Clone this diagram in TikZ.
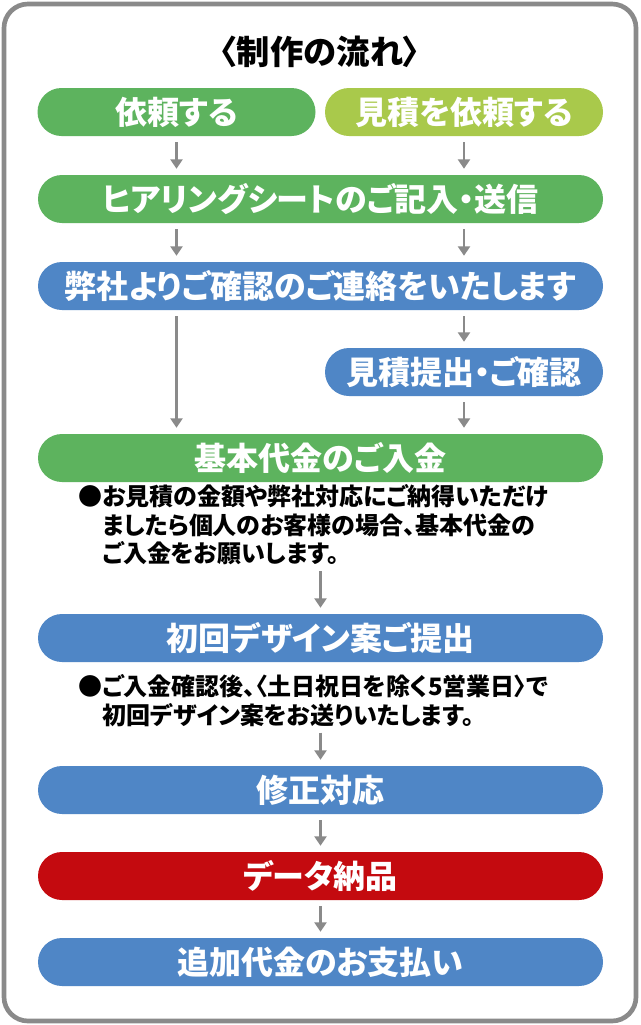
\documentclass[tikz,border=0pt]{standalone}
\usepackage{fontspec}
\setmainfont{Noto Sans CJK JP}[CharacterWidth=AlternateProportional]
\usetikzlibrary{positioning,calc,arrows.meta}
\definecolor{flowgreen}{HTML}{5DB35E}
\definecolor{flowlime}{HTML}{A9C94B}
\definecolor{flowblue}{HTML}{4F86C6}
\definecolor{flowred}{HTML}{C40A0F}
\definecolor{flowgray}{HTML}{8A8A8A}
\tikzset{
  stepbox/.style={rounded corners=24*0.75pt, minimum height=48*0.75pt, text=white,
    font=\bfseries\fontsize{24}{26}\selectfont, inner sep=0pt},
  wide/.style={stepbox, minimum width=565*0.75pt},
  half/.style={stepbox, minimum width=278*0.75pt},
  note/.style={align=left, anchor=north west, font=\bfseries\fontsize{18}{21.5}\selectfont, inner sep=0pt},
  flow/.style={draw=flowgray, line width=1.6pt, -{Triangle[length=7pt,width=9pt]}},
}
\begin{document}
\begin{tikzpicture}[x=0.75pt,y=-0.75pt]
\useasboundingbox (0,0) rectangle (640,1025);
\draw[flowgray, line width=3.5pt, rounded corners=18pt, fill=white] (4,4) rectangle (636,1021);

% ---------------------
% Title
\node[font=\bfseries\fontsize{25}{28}\selectfont] (title) at (320,52) {〈制作の流れ〉};

% ---------------------
% Steps
\node[half, fill=flowgreen] (order) at (176.5,112) {依頼する};
\node[half, fill=flowlime] (quote) at (464,112) {見積を依頼する};
\node[wide, fill=flowgreen] (sheet) at (320.5,199) {ヒアリングシートのご記入・送信};
\node[wide, fill=flowblue] (contact) at (320.5,286) {弊社よりご確認のご連絡をいたします};
\node[half, fill=flowblue] (estimate) at (464,372) {見積提出・ご確認};
\node[wide, fill=flowgreen] (payment) at (320.5,458) {基本代金のご入金};
\node[note] (paynote) at (78,484) {●お見積の金額や弊社対応にご納得いただけ\\\hspace{1em}ましたら個人のお客様の場合、基本代金の\\\hspace{1em}ご入金をお願いします。};
\node[note] (designnote) at (78,674) {●ご入金確認後、〈土日祝日を除く5営業日〉で\\\hspace{1em}初回デザイン案をお送りいたします。};
\node[wide, fill=flowblue] (design) at (320.5,638) {初回デザイン案ご提出};
\node[wide, fill=flowblue] (revise) at (320.5,790) {修正対応};
\node[wide, fill=flowred] (deliver) at (320.5,876) {データ納品};
\node[wide, fill=flowblue] (final) at (320.5,962) {追加代金のお支払い};

% ---------------------
% Arrows
\begin{scope}[shorten <=6*0.75pt, shorten >=6*0.75pt]
\draw[flow] (order.south) -- (order.south |- sheet.north);
\draw[flow] (quote.south) -- (quote.south |- sheet.north);
\draw[flow] (order.south |- sheet.south) -- (order.south |- contact.north);
\draw[flow] (quote.south |- sheet.south) -- (quote.south |- contact.north);
\draw[flow] (quote.south |- contact.south) -- (estimate.north);
\draw[flow] (order.south |- contact.south) -- (order.south |- payment.north);
\draw[flow] (estimate.south) -- (estimate.south |- payment.north);
\draw[flow] (paynote.south -| design.north) -- (design.north);
\draw[flow] (designnote.south -| revise.north) -- (revise.north);
\draw[flow] (revise.south) -- (deliver.north);
\draw[flow] (deliver.south) -- (final.north);
\end{scope}
\end{tikzpicture}
\end{document}
